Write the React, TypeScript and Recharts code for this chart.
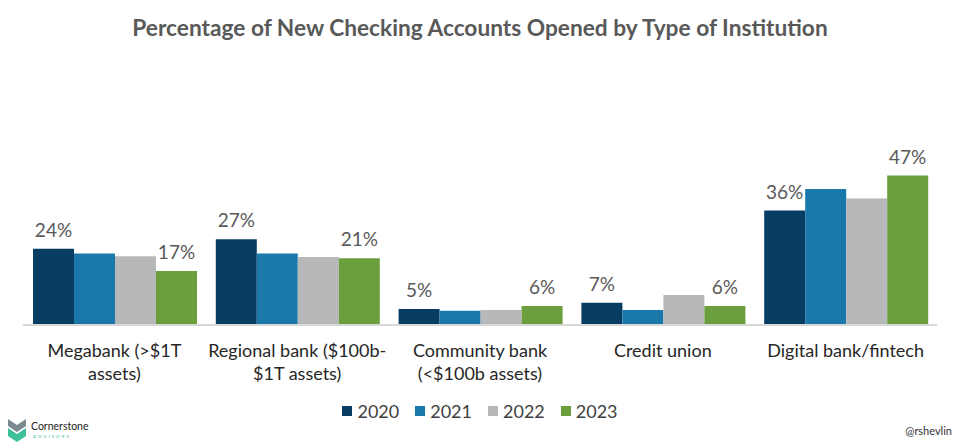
import React from 'react';
import { BarChart, Bar, XAxis, YAxis, Legend, LabelList } from 'recharts';

const categories = [
  ['Megabank (>$1T', 'assets)'],
  ['Regional bank ($100b-', '$1T assets)'],
  ['Community bank', '(<$100b assets)'],
  ['Credit union'],
  ['Digital bank/fintech'],
];

const years = ['2020', '2021', '2022', '2023'];
const colors = ['#083d63', '#1a79aa', '#b7b8ba', '#6b9f3e'];

// 2020 and 2023 are labelled in the source; 2021/2022
const values2020 = [24, 27, 5, 7, 36];
const values2021 = [22.5, 22.5, 4.5, 4.7, 42.8];
const values2022 = [21.6, 21.4, 4.7, 9.4, 39.8];
const values2023 = [17, 21, 6, 6, 47];

const series = [values2020, values2021, values2022, values2023];

const chartData = categories.map((lines, i) => {
  const row: Record<string, any> = { name: lines.join(' '), lines };
  years.forEach((y, s) => {
    row[y] = series[s][i];
  });
  return row;
});

const FONT = 'Lato, "Noto Sans", sans-serif';

function CategoryTick(props: any) {
  const { x, y, index } = props;
  const lines: string[] = chartData[index]?.lines ?? [];
  return (
    <text x={x} y={y} textAnchor="middle" fill="#262626" fontSize={18} fontFamily={FONT}>
      {lines.map((line, i) => (
        <tspan key={i} x={x} dy={i === 0 ? 24 : 23}>
          {line}
        </tspan>
      ))}
    </text>
  );
}

function LegendContent() {
  return (
    <div
      style={{
        display: 'flex',
        justifyContent: 'center',
        alignItems: 'center',
        height: 24,
        fontFamily: FONT,
        fontSize: 18,
        color: '#404040',
      }}
    >
      {years.map((y, i) => (
        <div key={y} style={{ display: 'flex', alignItems: 'center', marginRight: i < 3 ? 16 : 0 }}>
          <span style={{ width: 10, height: 10, background: colors[i], display: 'inline-block', marginRight: 5 }} />
          <span>{y}</span>
        </div>
      ))}
    </div>
  );
}

export default function App() {
  return (
    <div
      style={{
        position: 'absolute',
        left: 0,
        top: 0,
        width: 960,
        height: 443,
        background: '#ffffff',
        overflow: 'hidden',
      }}
    >
      <div
        style={{
          position: 'absolute',
          top: 14,
          left: 0,
          width: 960,
          textAlign: 'center',
          fontFamily: FONT,
          fontWeight: 700,
          fontSize: 22.7,
          color: '#595959',
        }}
      >
        Percentage of New Checking Accounts Opened by Type of Institution
      </div>
      <BarChart
        width={960}
        height={443}
        data={chartData}
        margin={{ top: 166, right: 23, left: 23, bottom: 20 }}
        barCategoryGap={10}
        barGap={0}
      >
        <XAxis
          dataKey="name"
          interval={0}
          tickLine={false}
          axisLine={{ stroke: '#d9d9d9', strokeWidth: 2 }}
          height={74}
          tick={<CategoryTick />}
        />
        <YAxis hide domain={[0, 50]} />
        <Legend verticalAlign="bottom" height={24} content={<LegendContent />} />
        {years.map((y, i) => (
          <Bar key={y} dataKey={y} fill={colors[i]} isAnimationActive={false}>
            {(i === 0 || i === 3) && (
              <LabelList
                dataKey={y}
                position="top"
                offset={12}
                formatter={(v: any) => `${v}%`}
                fill="#595959"
                fontSize={19}
                fontFamily={FONT}
              />
            )}
          </Bar>
        ))}
      </BarChart>
      <svg
        width={120}
        height={30}
        style={{ position: 'absolute', left: 0, top: 413 }}
      >
        <polygon points="8,6 17,12 26,6 26,13 17,19 8,13" fill="#7d8a92" />
        <polygon points="8,15 17,21 26,15 26,23 17,29 8,23" fill="#3fbf9b" />
        <text x={31} y={17} fontSize={10.5} fontFamily={FONT} fill="#222">
          Cornerstone
        </text>
        <text x={33} y={25} fontSize={4.5} letterSpacing={2} fontFamily={FONT} fill="#3fbf9b">
          ADVISORS
        </text>
      </svg>
      <div
        style={{
          position: 'absolute',
          right: 8,
          top: 424,
          fontFamily: FONT,
          fontSize: 11,
          color: '#333',
        }}
      >
        @rshevlin
      </div>
    </div>
  );
}
